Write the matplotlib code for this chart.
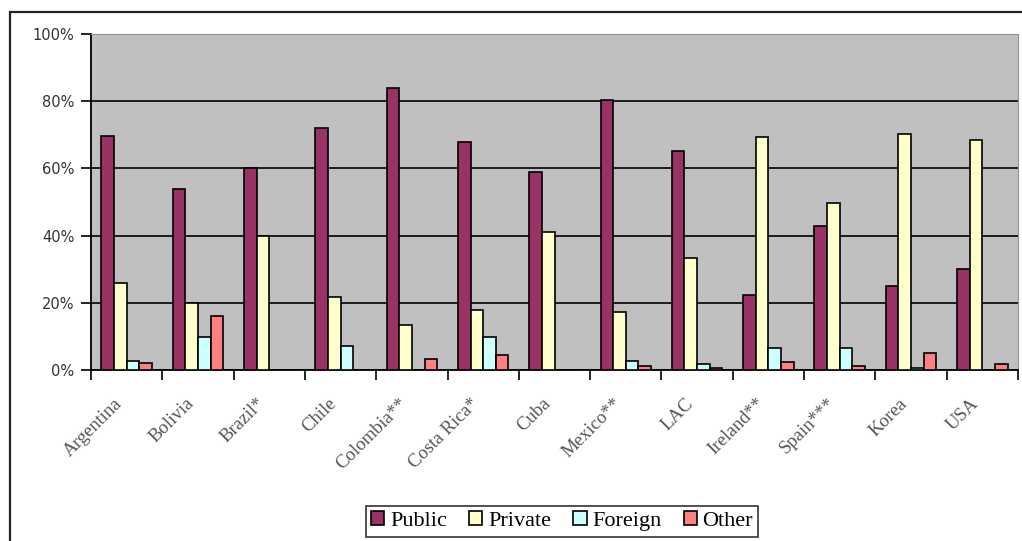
import numpy as np
import matplotlib
matplotlib.use("Agg")
import matplotlib.pyplot as plt
from matplotlib.patches import Rectangle
from matplotlib.ticker import FuncFormatter, FixedLocator

# Categories and shares (%)
countries = ["Argentina", "Bolivia", "Brazil*", "Chile", "Colombia**", "Costa Rica*",
             "Cuba", "Mexico**", "LAC", "Ireland**", "Spain***", "Korea", "USA"]
public = [69.5, 54.0, 60.0, 72.0, 84.0, 68.0, 59.0, 80.3, 65.2, 22.3, 42.9, 25.1, 30.1]
private = [26.0, 19.8, 40.0, 21.7, 13.4, 17.8, 41.0, 17.2, 33.4, 69.2, 49.6, 70.2, 68.5]
foreign = [2.8, 9.9, 0.0, 7.1, 0.0, 9.9, 0.0, 2.8, 1.7, 6.6, 6.6, 0.6, 0.0]
other = [2.2, 16.2, 0.0, 0.0, 3.3, 4.4, 0.0, 1.1, 0.6, 2.3, 1.1, 5.1, 1.7]

series = [("Public", public, "#993366"),
          ("Private", private, "#FFFFCC"),
          ("Foreign", foreign, "#CCFFFF"),
          ("Other", other, "#FF8080")]

W, H = 1022, 541
fig = plt.figure(figsize=(W / 100, H / 100), dpi=100)

# outer chart frame (runs off the right and bottom edge)
fig.patches.append(Rectangle((10 / W, -0.05), 1.1, (H - 12) / H + 0.05,
                             transform=fig.transFigure, fill=False,
                             edgecolor="#222222", linewidth=1.6, zorder=0))

ax = fig.add_axes([91 / W, (H - 370) / H, 927 / W, 336 / H])
ax.set_facecolor("#C0C0C0")

x = np.arange(len(countries))
bw = 0.177
offsets = (np.arange(4) - 1.5) * bw
for (name, vals, col), off in zip(series, offsets):
    ax.bar(x + off, vals, bw, color=col, edgecolor="black", linewidth=1.2,
           label=name, zorder=3)

ax.set_xlim(-0.5, len(countries) - 0.5)
ax.set_ylim(0, 100)
ax.set_yticks(np.arange(0, 101, 20))
ax.yaxis.set_major_formatter(FuncFormatter(lambda v, p: "%d%%" % v))
ax.grid(axis="y", color="black", linewidth=1.2, zorder=1)

ax.spines["left"].set_color("black")
ax.spines["bottom"].set_color("black")
ax.spines["left"].set_linewidth(1.3)
ax.spines["bottom"].set_linewidth(1.3)
ax.spines["top"].set_color("#909090")
ax.spines["right"].set_color("#909090")

ax.tick_params(axis="y", direction="out", length=7, width=1.2,
               labelsize=10.5, labelcolor="#333333", pad=5)
# labels sit a bit left of the category centre
ax.set_xticks(x - 0.18)
ax.set_xticklabels(countries, rotation=45, ha="right", rotation_mode="anchor",
                   fontfamily="Liberation Serif", fontsize=13.5, color="#555555")
ax.tick_params(axis="x", length=0, pad=18)
ax.xaxis.set_minor_locator(FixedLocator(np.arange(-0.5, len(countries), 1.0)))
ax.tick_params(axis="x", which="minor", direction="out", length=7, width=1.2)

leg = fig.legend(loc="center", bbox_to_anchor=(562 / W, (H - 521) / H), ncol=4,
                 frameon=True, fancybox=False, edgecolor="black",
                 prop={"family": "Liberation Serif", "size": 16},
                 handlelength=0.6, handleheight=0.6, handletextpad=0.25,
                 columnspacing=1.0, borderpad=0.25, borderaxespad=0)
leg.get_frame().set_linewidth(1.2)

fig.savefig("out.png", dpi=100)
